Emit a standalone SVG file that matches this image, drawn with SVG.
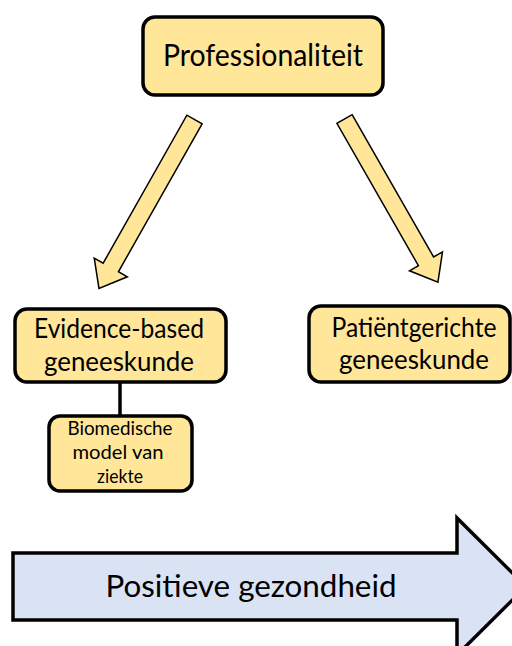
<svg xmlns="http://www.w3.org/2000/svg" width="512" height="646" viewBox="0 0 512 646">
  <style>
    .box { fill: #FFE699; stroke: #000; stroke-width: 3.5; }
    .arrow { fill: #FFE699; stroke: #000; stroke-width: 1.5; stroke-linejoin: miter; }
    .big { fill: #DAE3F3; stroke: #000; stroke-width: 3.5; }
    text { font-family: Lato, "Liberation Sans", sans-serif; fill: #000; text-anchor: middle; }
    .t1 { font-size: 30px; }
    .t2 { font-size: 26px; }
    .t3 { font-size: 18.5px; }
  </style>
  <rect width="512" height="646" fill="#fff"/>

  <!-- connectors -->
  <g id="connectors">
    <!-- left block arrow: Professionaliteit to Evidence-based -->
    <polygon class="arrow" transform="translate(194.5 119.5) rotate(119.5)"
      points="0,-8.75 170,-8.75 170,-19 194,0 170,19 170,8.75 0,8.75"/>
    <!-- right block arrow: Professionaliteit to Patiëntgerichte -->
    <polygon class="arrow" transform="translate(344.5 119) rotate(60.2)"
      points="0,-8.75 164,-8.75 164,-19 188,0 164,19 164,8.75 0,8.75"/>
    <!-- link to biomedical model -->
    <line x1="120" y1="383" x2="120" y2="415" stroke="#000" stroke-width="3.5"/>
  </g>

  <g id="professionaliteit">
    <rect class="box" x="143" y="17" width="240" height="78" rx="12"/>
    <text class="t1" x="263" y="66" textLength="200" lengthAdjust="spacingAndGlyphs">Professionaliteit</text>
  </g>

  <g id="evidence">
    <rect class="box" x="15" y="309" width="211" height="73" rx="12"/>
    <text class="t2" x="119" y="338" textLength="170" lengthAdjust="spacingAndGlyphs">Evidence-based</text>
    <text class="t2" x="119" y="371" textLength="150" lengthAdjust="spacingAndGlyphs">geneeskunde</text>
  </g>

  <g id="patientgericht">
    <rect class="box" x="309" y="306" width="201" height="76" rx="12"/>
    <text class="t2" x="414" y="337" textLength="165" lengthAdjust="spacingAndGlyphs">Patiëntgerichte</text>
    <text class="t2" x="414" y="369" textLength="150" lengthAdjust="spacingAndGlyphs">geneeskunde</text>
  </g>

  <g id="biomedisch">
    <rect class="box" x="49" y="416" width="143" height="75" rx="11"/>
    <text class="t3" x="120" y="435" textLength="105" lengthAdjust="spacingAndGlyphs">Biomedische</text>
    <text class="t3" x="118" y="459" textLength="91" lengthAdjust="spacingAndGlyphs">model van</text>
    <text class="t3" x="120" y="483" textLength="46" lengthAdjust="spacingAndGlyphs">ziekte</text>
  </g>

  <g id="positieve-gezondheid">
    <polygon class="big" points="13,553 457,553 457,518 526,586.5 457,655 457,620 13,620"/>
    <text class="t1" x="251" y="597" textLength="291" lengthAdjust="spacingAndGlyphs">Positieve gezondheid</text>
  </g>
</svg>
